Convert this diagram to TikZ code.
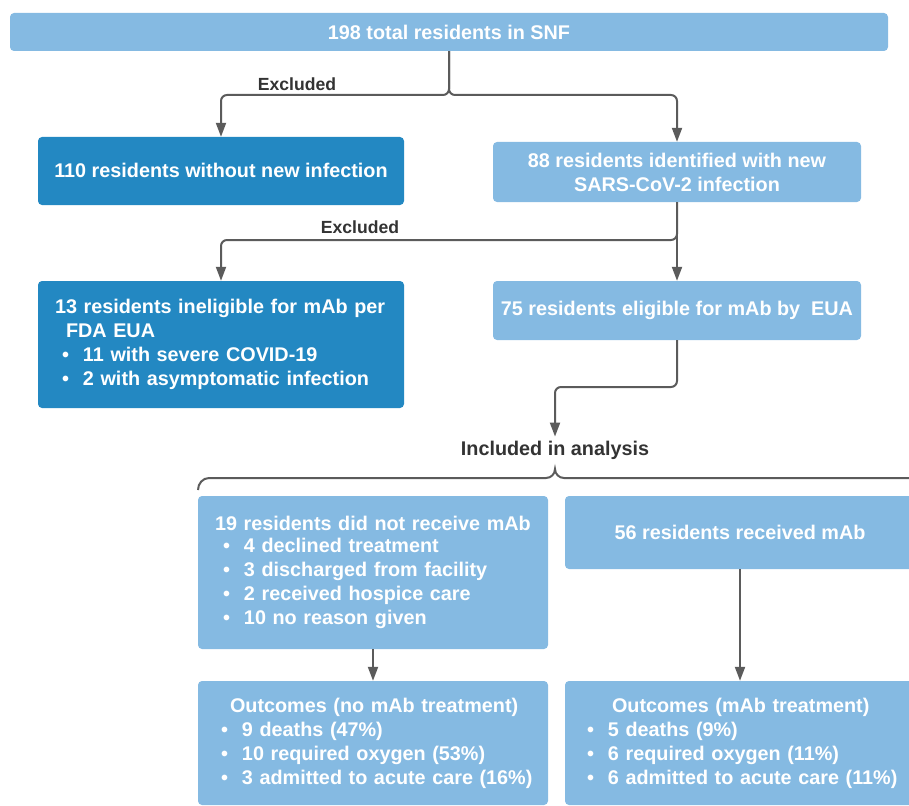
\documentclass[tikz,border=0pt]{standalone}
\usepackage{fontspec}
\setmainfont{Liberation Sans}
\usetikzlibrary{arrows.meta}
\definecolor{lightbox}{HTML}{85BAE2}
\definecolor{darkbox}{HTML}{2388C2}
\definecolor{linegray}{HTML}{5B5B5B}
\definecolor{labelgray}{HTML}{333333}
\newcommand{\bfont}{\fontsize{19.8}{24}\selectfont\bfseries}
\newcommand{\bitem}[2]{\hspace*{#1}\makebox[21pt][l]{\textbullet}#2}
\newcommand{\ind}[2]{\hspace*{#1}#2}
\tikzset{
  box/.style={rectangle, rounded corners=4pt, draw=none, text=white, font=\bfont, inner sep=0pt},
  lbox/.style={box, fill=lightbox},
  dbox/.style={box, fill=darkbox},
  listbox/.style={inner xsep=2pt, align=left},
  conn/.style={draw=linegray, line width=2pt, rounded corners=6pt},
  arr/.style={conn, -{Triangle[length=14pt,width=10pt]}},
  lbl/.style={text=labelgray, font=\bfont, inner sep=4pt}
}
\begin{document}
\begin{tikzpicture}[x=1pt,y=-1pt]
\useasboundingbox (0,0) rectangle (909,805);
\clip (0,0) rectangle (909,805);
% boxes
\node[lbox, minimum width=878pt, minimum height=38pt] (top) at (449,32) {198 total residents in SNF};
\node[dbox, minimum width=366pt, minimum height=68pt] (b110) at (221,171) {\raisebox{2pt}{110 residents without new infection}};
\node[lbox, minimum width=368pt, minimum height=60pt, align=center] (b88) at (677,172) {88 residents identified with new\\SARS-CoV-2 infection};
\node[dbox, listbox, minimum width=366pt, minimum height=127pt, text width=362pt] (b13) at (221,344.5)
  {\ind{15pt}{13 residents ineligible for mAb per}\\\ind{26pt}{FDA EUA}\\\bitem{22pt}{11 with severe COVID-19}\\\bitem{22pt}{2 with asymptomatic infection}};
\node[lbox, minimum width=368pt, minimum height=59pt] (b75) at (677,310.5) {75 residents eligible for mAb by\ \ EUA};
\node[lbl] (incl) at (555,450) {Included in analysis};
\node[lbox, listbox, minimum width=350pt, minimum height=153pt, text width=346pt] (b19) at (373,572.5)
  {\raisebox{-2pt}{\ind{15pt}{19 residents did not receive mAb}}\\\bitem{23pt}{4 declined treatment}\\\bitem{23pt}{3 discharged from facility}\\\bitem{23pt}{2 received hospice care}\\\bitem{23pt}{10 no reason given}};
\node[lbox, minimum width=350pt, minimum height=73pt] (b56) at (740,532.5) {56 residents received mAb};
\node[lbox, listbox, minimum width=350pt, minimum height=124pt, text width=346pt] (o1) at (373,743)
  {\ind{30pt}{Outcomes (no mAb treatment)}\\\bitem{21pt}{9 deaths (47\%)}\\\bitem{21pt}{10 required oxygen (53\%)}\\\bitem{21pt}{3 admitted to acute care (16\%)}};
\node[lbox, listbox, minimum width=350pt, minimum height=124pt, text width=346pt] (o2) at (740,743)
  {\ind{45pt}{Outcomes (mAb treatment)}\\\bitem{20pt}{5 deaths (9\%)}\\\bitem{20pt}{6 required oxygen (11\%)}\\\bitem{20pt}{6 admitted to acute care (11\%)}};
% labels
\node[lbl, font=\fontsize{17.6}{20}\selectfont\bfseries] (ex1) at (297,84) {Excluded};
\node[lbl, font=\fontsize{17.6}{20}\selectfont\bfseries] (ex2) at (360,227) {Excluded};
% junctions
\coordinate (j1) at (449,95);
\coordinate (j2) at (677,240);
\coordinate (j3) at (677,387);
% connectors
\draw[arr] (top.south) -- (j1) -| (b110.north);
\draw[arr] (top.south) -- (j1) -| (b88.north);
\draw[arr] (b88.south) -- (j2) -| (b13.north);
\draw[arr] (b88.south) -- (b75.north);
\draw[arr] (b75.south) -- (j3) -| (incl.north);
\draw[arr] (b19.south) -- (o1.north);
\draw[arr] (b56.south) -- (o2.north);
% brace
\draw[draw=linegray, line width=2pt] (198,490) to[out=90,in=180] (209,478) -- (546,478)
  to[out=0,in=-90] (555,469) to[out=-90,in=180] (564,478) -- (915,478);
\end{tikzpicture}
\end{document}
